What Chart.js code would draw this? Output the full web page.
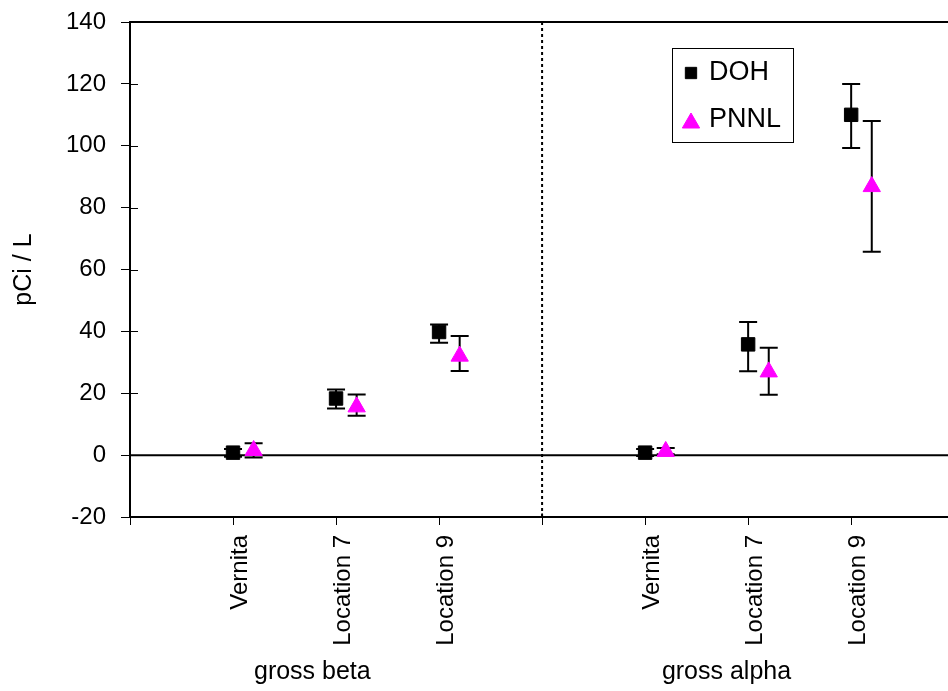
<!DOCTYPE html>
<html>
<head>
<meta charset="utf-8">
<script src="https://cdn.jsdelivr.net/npm/chart.js@4"></script>
<style>
  html, body { margin: 0; padding: 0; background: #fff; overflow: hidden; }
  #wrap { width: 948px; height: 691px; position: relative; }
  canvas { display: block; }
</style>
</head>
<body>
<div id="wrap"><canvas id="chart"></canvas></div>
<script>
// x positions 1..3 = gross beta, 5..7 = gross alpha, 4 = divider
const categories = ["Vernita", "Location 7", "Location 9", "Vernita", "Location 7", "Location 9"];
const categoryPos = [1, 2, 3, 5, 6, 7];
const groups = ["gross beta", "gross alpha"];
const groupCenters = [1.77, 5.79];
const dividerPos = 4;
const pnnlShift = 0.2;

const dohValues = [0.8, 18.3, 39.8, 0.8, 35.8, 110];
const dohLow = [-0.5, 15.1, 36.3, -0.3, 27.1, 99.3];
const dohHigh = [2.0, 21.2, 42.2, 2.0, 43.0, 120];

const pnnlValues = [1.5, 15.6, 32.0, 1.2, 26.9, 86.8];
const pnnlLow = [-0.8, 12.7, 27.2, 0.3, 19.5, 65.7];
const pnnlHigh = [3.8, 19.6, 38.5, 2.3, 34.7, 108];

const yTicks = [-20, 0, 20, 40, 60, 80, 100, 120, 140];

const FONT = "'Liberation Sans', Arial, sans-serif";

function points(values, lo, hi, shift) {
    return values.map((v, i) => ({ x: categoryPos[i] + shift, y: v, lo: lo[i], hi: hi[i] }));
}

// error bars, zero line, divider, top border, inner ticks, group labels, legend
const extras = {
    id: "extras",
    beforeDatasetsDraw(chart) {
        const { ctx, chartArea, scales } = chart;
        const x = scales.x, y = scales.y;
        ctx.save();
        ctx.strokeStyle = "#000";
        // zero line
        ctx.lineWidth = 2;
        const y0 = y.getPixelForValue(0);
        ctx.beginPath();
        ctx.moveTo(chartArea.left, y0);
        ctx.lineTo(chartArea.right, y0);
        ctx.stroke();
        // top border
        ctx.beginPath();
        ctx.moveTo(chartArea.left, chartArea.top);
        ctx.lineTo(chartArea.right, chartArea.top);
        ctx.stroke();
        // dotted divider
        const xd = x.getPixelForValue(dividerPos);
        ctx.setLineDash([3, 3]);
        ctx.beginPath();
        ctx.moveTo(xd, chartArea.top);
        ctx.lineTo(xd, chartArea.bottom);
        ctx.stroke();
        ctx.setLineDash([]);
        // inner half of y ticks
        ctx.lineWidth = 1;
        yTicks.forEach(t => {
            const py = Math.round(y.getPixelForValue(t)) + 0.5;
            ctx.beginPath();
            ctx.moveTo(chartArea.left, py);
            ctx.lineTo(chartArea.left + 8, py);
            ctx.stroke();
        });
        // divider tick crossing up
        ctx.beginPath();
        ctx.moveTo(xd, chartArea.bottom);
        ctx.lineTo(xd, chartArea.bottom - 4);
        ctx.stroke();
        // error bars
        ctx.lineWidth = 2;
        chart.data.datasets.forEach(ds => {
            ds.data.forEach(p => {
                const px = x.getPixelForValue(p.x);
                const pl = y.getPixelForValue(p.lo);
                const ph = y.getPixelForValue(p.hi);
                ctx.beginPath();
                ctx.moveTo(px, pl);
                ctx.lineTo(px, ph);
                ctx.moveTo(px - 9, pl);
                ctx.lineTo(px + 9, pl);
                ctx.moveTo(px - 9, ph);
                ctx.lineTo(px + 9, ph);
                ctx.stroke();
            });
        });
        ctx.restore();
    },
    afterDraw(chart) {
        const { ctx, scales } = chart;
        const x = scales.x;
        ctx.save();
        // group labels
        ctx.fillStyle = "#000";
        ctx.font = "25px " + FONT;
        ctx.textAlign = "center";
        ctx.textBaseline = "middle";
        groups.forEach((g, i) => {
            ctx.fillText(g, x.getPixelForValue(groupCenters[i]), 672);
        });
        // legend box
        const lx = 672, ly = 48, lw = 121, lh = 94;
        ctx.fillStyle = "#fff";
        ctx.fillRect(lx, ly, lw, lh);
        ctx.strokeStyle = "#000";
        ctx.lineWidth = 1;
        ctx.strokeRect(lx + 0.5, ly + 0.5, lw, lh);
        ctx.textAlign = "left";
        chart.data.datasets.forEach((ds, i) => {
            const cy = ly + 25 + i * 47;
            ctx.fillStyle = ds.backgroundColor;
            ctx.strokeStyle = ds.borderColor;
            ctx.lineWidth = 1;
            Chart.helpers.drawPoint(ctx, {
                pointStyle: ds.pointStyle,
                radius: ds.pointStyle === "triangle" ? 10 : 8,
                borderWidth: 1,
                rotation: 0
            }, lx + 19, cy + (ds.pointStyle === "triangle" ? 3 : 0));
            ctx.fillStyle = "#000";
            ctx.font = "27px " + FONT;
            ctx.fillText(ds.label, lx + 37, cy);
        });
        ctx.restore();
    }
};

new Chart(document.getElementById("chart"), {
    type: "scatter",
    data: {
        datasets: [
            {
                label: "DOH",
                data: points(dohValues, dohLow, dohHigh, 0),
                pointStyle: "rect",
                pointRadius: 9.5,
                pointHoverRadius: 9.5,
                backgroundColor: "#000000",
                borderColor: "#000000",
                borderWidth: 1
            },
            {
                label: "PNNL",
                data: points(pnnlValues, pnnlLow, pnnlHigh, pnnlShift),
                pointStyle: "triangle",
                pointRadius: 10,
                pointHoverRadius: 10,
                backgroundColor: "#ff00ff",
                borderColor: "#ff00ff",
                borderWidth: 1
            }
        ]
    },
    options: {
        responsive: true,
        maintainAspectRatio: false,
        animation: false,
        events: [],
        layout: { autoPadding: false, padding: { top: 22, right: 0, left: 0, bottom: 0 } },
        plugins: {
            legend: { display: false },
            tooltip: { enabled: false }
        },
        scales: {
            x: {
                type: "linear",
                min: 0,
                max: 7.94,
                afterBuildTicks(scale) {
                    scale.ticks = [0, 1, 2, 3, 4, 5, 6, 7].map(v => ({ value: v }));
                },
                afterFit(scale) {
                    scale.height = 174;
                    scale.paddingLeft = 0;
                    scale.paddingRight = 0;
                },
                grid: {
                    drawOnChartArea: false,
                    drawTicks: true,
                    tickLength: 8,
                    tickColor: "#000",
                    tickWidth: 1
                },
                border: { display: true, color: "#000", width: 2 },
                ticks: {
                    autoSkip: false,
                    minRotation: 90,
                    maxRotation: 90,
                    padding: 10,
                    labelOffset: 7,
                    color: "#000",
                    font: { family: FONT, size: 24 },
                    callback(value) {
                        const i = categoryPos.indexOf(value);
                        return i >= 0 ? categories[i] : "";
                    }
                }
            },
            y: {
                min: -20,
                max: 140,
                afterBuildTicks(scale) {
                    scale.ticks = yTicks.map(v => ({ value: v }));
                },
                afterFit(scale) {
                    scale.width = 130;
                    scale.paddingTop = 0;
                    scale.paddingBottom = 0;
                },
                grid: {
                    drawOnChartArea: false,
                    drawTicks: true,
                    tickLength: 9,
                    tickColor: "#000",
                    tickWidth: 1
                },
                border: { display: true, color: "#000", width: 2 },
                ticks: {
                    padding: 15,
                    color: "#000",
                    font: { family: FONT, size: 24 }
                },
                title: {
                    display: true,
                    text: "pCi / L",
                    color: "#000",
                    font: { family: FONT, size: 25 },
                    padding: { top: 9, bottom: 0 }
                }
            }
        }
    },
    plugins: [extras]
});
</script>
</body>
</html>
